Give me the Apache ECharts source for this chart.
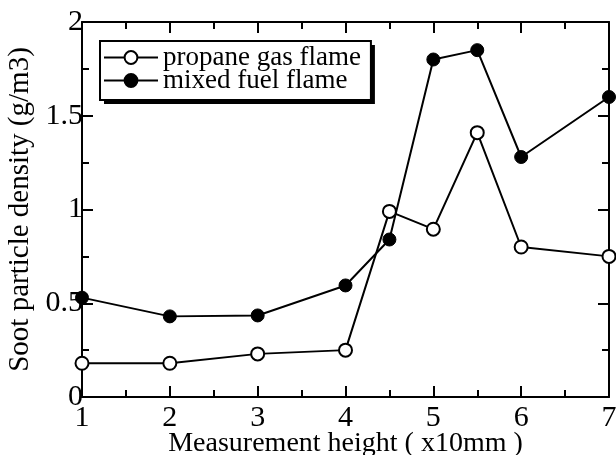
<!DOCTYPE html>
<html>
<head>
<meta charset="utf-8">
<script src="https://cdn.jsdelivr.net/npm/echarts@6/dist/echarts.min.js"></script>
<style>
html,body{margin:0;padding:0;background:#fff;}
#chart{width:616px;height:455px;}
</style>
</head>
<body>
<div id="chart"></div>
<script>
var heights = [1, 2, 3, 4, 4.5, 5, 5.5, 6, 7];
var propane = [0.18, 0.18, 0.23, 0.25, 0.99, 0.895, 1.41, 0.80, 0.75];
var mixed = [0.53, 0.43, 0.435, 0.595, 0.84, 1.80, 1.85, 1.28, 1.60];
var seriesNames = ['propane gas flame', 'mixed fuel flame'];
var xTitle = 'Measurement height ( x10mm )';
var yTitle = 'Soot particle density (g/m3)';

function pairs(xs, ys) { return xs.map(function (x, i) { return [x, ys[i]]; }); }

var FONT = "'Liberation Serif', 'Times New Roman', serif";
var axisCommon = {
  axisLine: { show: true, onZero: false, lineStyle: { color: '#000', width: 2 } },
  axisTick: { show: true, inside: true, length: 11, lineStyle: { color: '#000', width: 2 } },
  minorTick: { show: true, splitNumber: 2, length: 7, lineStyle: { color: '#000', width: 2 } },
  splitLine: { show: false },
  minorSplitLine: { show: false }
};
function ax(extra) { return Object.assign({}, JSON.parse(JSON.stringify(axisCommon)), extra); }

var legendBase = {
  orient: 'vertical',
  left: 100, top: 41,
  padding: [3, 10, 6, 3],
  itemWidth: 54, itemHeight: 16, itemGap: -4,
  borderRadius: 0,
  selectedMode: false,
  data: seriesNames
};

var chart = echarts.init(document.getElementById('chart'), null, { renderer: 'canvas' });
chart.setOption({
  animation: false,
  backgroundColor: '#fff',
  grid: { left: 82, right: 7, top: 22, bottom: 58, outerBoundsMode: 'none', containLabel: false },
  legend: [
    Object.assign({}, legendBase, {
      backgroundColor: '#fff', borderWidth: 0,
      shadowColor: '#000', shadowBlur: 0, shadowOffsetX: 4, shadowOffsetY: 4,
      textStyle: { fontFamily: FONT, fontSize: 27, color: '#000' }
    }),
    Object.assign({}, legendBase, {
      backgroundColor: 'rgba(0,0,0,0)', borderColor: '#000', borderWidth: 2,
      itemStyle: { opacity: 0 }, lineStyle: { opacity: 0 },
      textStyle: { fontFamily: FONT, fontSize: 27, color: 'rgba(0,0,0,0)' }
    })
  ],
  xAxis: [
    ax({ type: 'value', position: 'bottom', min: 1, max: 7, interval: 1,
      name: xTitle, nameLocation: 'middle', nameGap: 33, nameMoveOverlap: false,
      nameTextStyle: { fontFamily: FONT, fontSize: 28, color: '#000' },
      axisLabel: { show: true, margin: 6, fontFamily: FONT, fontSize: 30, color: '#000' } }),
    ax({ type: 'value', position: 'top', min: 1, max: 7, interval: 1,
      axisLabel: { show: false } })
  ],
  yAxis: [
    ax({ type: 'value', position: 'left', min: 0, max: 2, interval: 0.5,
      name: yTitle, nameLocation: 'middle', nameGap: 47, nameRotate: 90, nameMoveOverlap: false,
      nameTextStyle: { fontFamily: FONT, fontSize: 29, color: '#000' },
      axisLabel: { show: true, margin: -1, fontFamily: FONT, fontSize: 30, color: '#000' } }),
    ax({ type: 'value', position: 'right', min: 0, max: 2, interval: 0.5,
      axisLabel: { show: false } })
  ],
  series: [
    {
      name: seriesNames[0], type: 'line', xAxisIndex: 0, yAxisIndex: 0,
      data: pairs(heights, propane),
      symbol: 'circle', symbolSize: 13, showAllSymbol: true,
      lineStyle: { color: '#000', width: 2 },
      itemStyle: { color: '#fff', borderColor: '#000', borderWidth: 2 },
      z: 3
    },
    {
      name: seriesNames[1], type: 'line', xAxisIndex: 0, yAxisIndex: 0,
      data: pairs(heights, mixed),
      symbol: 'circle', symbolSize: 13, showAllSymbol: true,
      lineStyle: { color: '#000', width: 2 },
      itemStyle: { color: '#000', borderColor: '#000', borderWidth: 1 },
      z: 2
    }
  ]
});
</script>
</body>
</html>
